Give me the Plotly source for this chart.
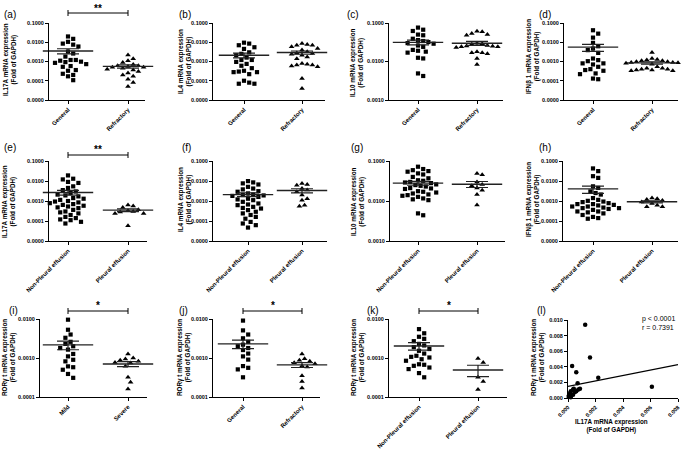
import numpy as np
import plotly.graph_objects as go

W, H = 685, 449
FONT = "Liberation Sans"

# ---------------- data ----------------
CATS_GR = ["General", "Refractory"]
CATS_PE = ["Non-Pleural effusion", "Pleural effusion"]
CATS_MS = ["Mild", "Severe"]

A_GENERAL = [0.02, 0.015, 0.0105, 0.0085, 0.0075, 0.006, 0.0033, 0.0026, 0.0018, 0.0012, 0.0012, 0.0011,
             0.00098, 0.00093, 0.00085, 0.00073, 0.00058, 0.00053, 0.00036, 0.00033, 0.00023, 0.0002, 0.00017, 0.000107]
A_REFRACTORY = [0.0022, 0.0014, 0.0011, 0.0009, 0.0007, 0.0006, 0.0006, 0.00055, 0.0005, 0.0005, 0.00045,
                0.00045, 0.0004, 0.00036, 0.00036, 0.0003, 0.00025, 0.0002, 0.00017, 0.00012, 0.00008, 0.00005]

B_GENERAL = [0.0095, 0.0085, 0.007, 0.0055, 0.0045, 0.003, 0.0025, 0.0021, 0.0016, 0.0012, 0.0012, 0.00095,
             0.00075, 0.0006, 0.00045, 0.00033, 0.0003, 0.00028, 0.00028, 0.00022, 0.0001, 0.00008, 0.00007, 0.00007]
B_REFRACTORY = [0.0085, 0.0076, 0.007, 0.007, 0.0058, 0.0047, 0.0039, 0.0032, 0.0028, 0.0026, 0.0024, 0.0021,
                0.0017, 0.0014, 0.00079, 0.00073, 0.00065, 0.00065, 0.00058, 0.00053, 0.00013, 0.00004]

C_GENERAL = [0.076, 0.067, 0.062, 0.050, 0.048, 0.039, 0.036, 0.034, 0.032, 0.030, 0.029, 0.026, 0.024,
             0.020, 0.019, 0.018, 0.017, 0.0125, 0.012, 0.0049, 0.0042]
C_REFRACTORY = [0.061, 0.059, 0.053, 0.050, 0.048, 0.030, 0.029, 0.028, 0.026, 0.0254, 0.025, 0.024, 0.024,
                0.023, 0.018, 0.017, 0.017, 0.016, 0.012, 0.0084]

D_GENERAL = [0.042, 0.028, 0.0174, 0.0093, 0.0062, 0.0047, 0.0039, 0.0028, 0.00143, 0.00118, 0.00104, 0.0008,
             0.0008, 0.0007, 0.00053, 0.0004, 0.00036, 0.00033, 0.00024, 0.00022, 0.00013, 0.00012]
D_REFRACTORY = [0.0029, 0.00143, 0.00126, 0.00118, 0.0011, 0.00108, 0.00096, 0.00096, 0.0009, 0.00089, 0.00086,
                0.0008, 0.00073, 0.00053, 0.00044, 0.00044, 0.0004, 0.0004, 0.00036, 0.00036, 0.00033, 0.00033]

E_NONPLEURAL = [0.019, 0.013, 0.012, 0.009, 0.008, 0.0054, 0.0045, 0.0035, 0.003, 0.0025, 0.0021, 0.0019,
                0.0017, 0.0014, 0.0013, 0.00114, 0.001, 0.00094, 0.00085, 0.00078, 0.0007, 0.00064, 0.00058,
                0.00053, 0.00048, 0.00044, 0.00036, 0.0003, 0.00027, 0.00024, 0.0002, 0.00016, 0.00014,
                0.00012, 0.00011, 0.000091, 0.000075]
E_PLEURAL = [0.00064, 0.00057, 0.00047, 0.00036, 0.00033, 0.0003, 0.00028, 0.00024, 0.00024, 0.000058]

F_NONPLEURAL = [0.0099, 0.0085, 0.0076, 0.0067, 0.0051, 0.0042, 0.0038, 0.0031, 0.0029, 0.0024, 0.0021, 0.0020,
                0.0018, 0.0016, 0.0013, 0.0011, 0.00091, 0.00075, 0.00067, 0.00062, 0.00051, 0.00045, 0.00042,
                0.00035, 0.00029, 0.00024, 0.00020, 0.00016, 0.00013, 0.000090, 0.000075, 0.000062, 0.000047,
                0.0019, 0.0012]
F_PLEURAL = [0.0076, 0.0067, 0.0062, 0.0042, 0.0035, 0.0029, 0.002, 0.0013, 0.0011, 0.00062, 0.00055]

G_NONPLEURAL = [0.072, 0.063, 0.059, 0.056, 0.054, 0.049, 0.046, 0.040, 0.037, 0.033, 0.032, 0.030, 0.029,
                0.028, 0.026, 0.025, 0.024, 0.023, 0.021, 0.0206, 0.020, 0.0176, 0.017, 0.0163, 0.0154, 0.0146,
                0.014, 0.0135, 0.0127, 0.0116, 0.011, 0.0105, 0.0049, 0.0044]
G_PLEURAL = [0.049, 0.045, 0.030, 0.026, 0.024, 0.021, 0.0187, 0.0146, 0.0079]

H_NONPLEURAL = [0.0425, 0.0312, 0.0174, 0.0143, 0.0054, 0.0045, 0.003, 0.0025, 0.0021, 0.0014, 0.00114, 0.00102,
                0.00094, 0.00088, 0.00078, 0.0007, 0.00064, 0.0006, 0.00053, 0.00047, 0.00044, 0.0004, 0.00036,
                0.0003, 0.00027, 0.00024, 0.0002, 0.00016, 0.00014, 0.00013, 0.00053, 0.0007, 0.00044, 0.0003]
H_PLEURAL = [0.0014, 0.0013, 0.0012, 0.00105, 0.00088, 0.00075, 0.00062, 0.00052, 0.00052]

I_MILD = [0.0096, 0.0053, 0.0040, 0.0033, 0.0026, 0.0023, 0.0020, 0.0018, 0.00164, 0.00127, 0.0011, 0.0009,
          0.00082, 0.00061, 0.00058, 0.0005, 0.00039, 0.00031]
I_SEVERE = [0.00127, 0.001, 0.00094, 0.00087, 0.00082, 0.00077, 0.00074, 0.00061, 0.00032, 0.00024, 0.00016]

J_GENERAL = [0.0091, 0.0051, 0.004, 0.0032, 0.0026, 0.0022, 0.0020, 0.0018, 0.0016, 0.0013, 0.0011, 0.00091,
             0.00062, 0.00056, 0.00051, 0.00032]
J_REFRACTORY = [0.00126, 0.00095, 0.00087, 0.00082, 0.00075, 0.00071, 0.00062, 0.00059, 0.00035, 0.00025, 0.00017]

K_NONPLEURAL = [0.01, 0.0055, 0.0043, 0.0035, 0.0031, 0.0027, 0.0023, 0.0021, 0.0019, 0.0017, 0.00153, 0.0013,
                0.00114, 0.00107, 0.00103, 0.00093, 0.00085, 0.00069, 0.00067, 0.00063, 0.00057, 0.00052,
                0.00041, 0.00032]
K_PLEURAL = [0.00097, 0.00077, 0.00032, 0.00025, 0.000155]

L_IL17A = [0.00125, 0.0016, 0.0003, 0.0006, 0.0007, 0.0022, 0.0061, 0.0002, 0.00037, 0.0005, 0.0006, 0.00007,
           0.00025, 0.00005, 0.00037, 0.00042, 0.00075, 0.00087, 0.0001, 0.00015, 0.0002]
L_RORGT = [0.0094, 0.0052, 0.0041, 0.0033, 0.0019, 0.0026, 0.00145, 0.00085, 0.0011, 0.00077, 0.00085, 0.00034,
           0.00043, 0.00013, 0.00043, 0.0012, 0.0011, 0.0012, 0.0002, 0.0006, 0.0001]
L_STATS = "p < 0.0001<br>r = 0.7391"

YT_IL17A = "IL17A mRNA expression"
YT_IL4 = "IL4 mRNA expression"
YT_IL10 = "IL10 mRNA expression"
YT_IFN = "IFNβ 1 mRNA expression"
YT_ROR = "RORγ t mRNA expression"
FOLD = "(Fold of GAPDH)"

# ---------------- layout (pixels) ----------------
PANELS = [
    dict(lab="(a)", g=(A_GENERAL, A_REFRACTORY), cats=CATS_GR, yt=YT_IL17A, yr=(-5, -1), px=(49, 68, 128, 145), py=(23, 100), lp=(2, 15), tp=(10, 60), sig="**", sy=(13, 8)),
    dict(lab="(b)", g=(B_GENERAL, B_REFRACTORY), cats=CATS_GR, yt=YT_IL4, yr=(-5, -1), px=(213, 244, 302, 325), py=(23, 100), lp=(177, 15), tp=(185, 62)),
    dict(lab="(c)", g=(C_GENERAL, C_REFRACTORY), cats=CATS_GR, yt=YT_IL10, yr=(-3, -1), px=(389, 418, 477, 503), py=(23, 100), lp=(345, 15), tp=(357, 63)),
    dict(lab="(d)", g=(D_GENERAL, D_REFRACTORY), cats=CATS_GR, yt=YT_IFN, yr=(-5, -1), px=(564, 593, 652, 678), py=(23, 100), lp=(537, 15), tp=(533, 57)),
    dict(lab="(e)", g=(E_NONPLEURAL, E_PLEURAL), cats=CATS_PE, yt=YT_IL17A, yr=(-5, -1), px=(49, 68, 128, 147), py=(161, 241), lp=(2, 148), tp=(9, 202), sig="**", sy=(155, 149)),
    dict(lab="(f)", g=(F_NONPLEURAL, F_PLEURAL), cats=CATS_PE, yt=YT_IL4, yr=(-5, -1), px=(213, 248, 302, 327), py=(161, 241), lp=(180, 148), tp=(185, 200)),
    dict(lab="(g)", g=(G_NONPLEURAL, G_PLEURAL), cats=CATS_PE, yt=YT_IL10, yr=(-3, -1), px=(390, 418, 477, 505), py=(161, 241), lp=(349, 148), tp=(358, 202)),
    dict(lab="(h)", g=(H_NONPLEURAL, H_PLEURAL), cats=CATS_PE, yt=YT_IFN, yr=(-5, -1), px=(563, 593, 652, 678), py=(161, 241), lp=(537, 148), tp=(533, 200)),
    dict(lab="(i)", g=(I_MILD, I_SEVERE), cats=CATS_MS, yt=YT_ROR, yr=(-4, -2), px=(40, 68, 128, 147), py=(319, 397), lp=(7, 310), tp=(9, 358), sig="*", sy=(311, 305)),
    dict(lab="(j)", g=(J_GENERAL, J_REFRACTORY), cats=CATS_GR, yt=YT_ROR, yr=(-4, -2), px=(213, 243, 302, 320), py=(319, 397), lp=(177, 310), tp=(184, 358), sig="*", sy=(311, 305)),
    dict(lab="(k)", g=(K_NONPLEURAL, K_PLEURAL), cats=CATS_PE, yt=YT_ROR, yr=(-4, -2), px=(389, 419, 478, 507), py=(319, 397), lp=(365, 310), tp=(358, 358), sig="*", sy=(311, 305)),
]
L_PANEL = dict(lab="(l)", px=(568, 678), py=(320, 398), xr=(0, 0.008), yr=(0, 0.010), lp=(535, 310), tp=(538, 358),
               xt=(611, 426), st=(640, 323))

BLACK = "black"
SYMS = ["square", "triangle-up"]
SIZES = [4.2, 5.0]
SPACING = 5.2      # px between swarm points
MEAN_W = 36        # px width of the mean line
CAP_HW = 11        # px half width of SEM caps

AX = dict(showline=True, linecolor=BLACK, linewidth=1, ticks="outside", ticklen=3, tickwidth=1,
          tickcolor=BLACK, showgrid=False, zeroline=False, fixedrange=True, automargin=False,
          tickfont=dict(family=FONT, size=5.5, color=BLACK, weight="bold"))


def fx(p):
    return p / W


def fy(p):
    return 1 - p / H


def swarm(vals, ypix):
    placed, offs = [], [0.0] * len(vals)
    order = sorted(range(len(vals)), key=lambda i: -vals[i])
    cands = [0.0]
    for k in range(1, 30):
        cands += [k * SPACING / 2, -k * SPACING / 2]
    for i in order:
        y = ypix(vals[i])
        for c in cands:
            if all((c - a) ** 2 + (y - b) ** 2 >= SPACING ** 2 * 0.98 for a, b in placed):
                break
        placed.append((c, y))
        offs[i] = c
    return offs


fig = go.Figure()
annotations, shapes = [], []
layout = {}

for n, p in enumerate(PANELS, start=1):
    xa, ya = ("x", "y") if n == 1 else (f"x{n}", f"y{n}")
    x0, c1, c2, x1 = p["px"]
    top, bot = p["py"]
    lo, hi = p["yr"]
    ppu = c2 - c1
    hpx = bot - top
    ypix = lambda v, lo=lo, hi=hi, hpx=hpx: (np.log10(v) - lo) / (hi - lo) * hpx

    for gi, vals in enumerate(p["g"]):
        offs = swarm(vals, ypix)
        fig.add_trace(go.Scatter(
            x=[gi + o / ppu for o in offs], y=vals, mode="markers", xaxis=xa, yaxis=ya,
            marker=dict(symbol=SYMS[gi], size=SIZES[gi], color=BLACK, line=dict(width=0)),
            cliponaxis=False, showlegend=False, hoverinfo="skip"))
        arr = np.array(vals)
        m = arr.mean()
        sem = arr.std(ddof=1) / np.sqrt(len(arr))
        fig.add_trace(go.Scatter(
            x=[gi], y=[m], mode="markers", xaxis=xa, yaxis=ya,
            marker=dict(symbol="line-ew", size=MEAN_W, color="#222", line=dict(width=1.4, color="#222")),
            error_y=dict(type="data", symmetric=False, array=[sem], arrayminus=[sem],
                         width=CAP_HW, thickness=1.2, color="#222"),
            cliponaxis=False, showlegend=False, hoverinfo="skip"))

    layout[f"xaxis{n}"] = dict(AX, domain=[fx(x0), fx(x1)], anchor=ya, range=[(x0 - c1) / ppu, (x1 - c1) / ppu],
                               tickmode="array", tickvals=[0, 1], ticktext=p["cats"], tickangle=-45,
                               tickfont=dict(family=FONT, size=6, color=BLACK, weight="bold"))
    tv = [10.0 ** k for k in range(lo, hi + 1)]
    layout[f"yaxis{n}"] = dict(AX, domain=[fy(bot), fy(top)], anchor=xa, type="log", range=[lo, hi],
                               tickmode="array", tickvals=tv, ticktext=[f"{v:.4f}" for v in tv])

    annotations.append(dict(text=p["lab"], x=fx(p["lp"][0]), y=fy(p["lp"][1]), xref="paper", yref="paper",
                            xanchor="left", yanchor="middle", showarrow=False,
                            font=dict(family=FONT, size=10, color=BLACK)))
    annotations.append(dict(text=f"<b>{p['yt']}</b><br><b>{FOLD}</b>", x=fx(p["tp"][0]), y=fy(p["tp"][1]),
                            xref="paper", yref="paper", xanchor="center", yanchor="middle", textangle=-90,
                            showarrow=False, font=dict(family=FONT, size=6.3, color=BLACK)))
    if p.get("sig"):
        by, sy = p["sy"]
        shapes.append(dict(type="line", xref=xa, yref="paper", x0=0, x1=1, y0=fy(by), y1=fy(by),
                           line=dict(color=BLACK, width=1)))
        for xe in (0, 1):
            shapes.append(dict(type="line", xref=xa, yref="paper", x0=xe, x1=xe, y0=fy(by - 3), y1=fy(by + 3),
                               line=dict(color=BLACK, width=1)))
        annotations.append(dict(text=f"<b>{p['sig']}</b>", x=0.5, y=fy(sy), xref=xa, yref="paper",
                                xanchor="center", yanchor="middle", showarrow=False,
                                font=dict(family=FONT, size=10, color=BLACK)))

# ---- panel (l): correlation ----
q = L_PANEL
xs, ys = np.array(L_IL17A), np.array(L_RORGT)
slope, icpt = np.polyfit(xs, ys, 1)
lx = np.array(q["xr"])
fig.add_trace(go.Scatter(x=lx, y=slope * lx + icpt, mode="lines", xaxis="x12", yaxis="y12",
                         line=dict(color=BLACK, width=1.2), showlegend=False, hoverinfo="skip"))
fig.add_trace(go.Scatter(x=xs, y=ys, mode="markers", xaxis="x12", yaxis="y12", cliponaxis=False,
                         marker=dict(symbol="circle", size=4.5, color=BLACK), showlegend=False, hoverinfo="skip"))
layout["xaxis12"] = dict(AX, domain=[fx(q["px"][0]), fx(q["px"][1])], anchor="y12", range=list(q["xr"]),
                         dtick=0.002, tick0=0, tickformat=".3f", tickangle=-45)
layout["yaxis12"] = dict(AX, domain=[fy(q["py"][1]), fy(q["py"][0])], anchor="x12", range=list(q["yr"]),
                         dtick=0.002, tick0=0, tickformat=".3f")
annotations.append(dict(text=q["lab"], x=fx(q["lp"][0]), y=fy(q["lp"][1]), xref="paper", yref="paper",
                        xanchor="left", yanchor="middle", showarrow=False, font=dict(family=FONT, size=10, color=BLACK)))
annotations.append(dict(text=f"<b>{YT_ROR}</b><br><b>{FOLD}</b>", x=fx(q["tp"][0]), y=fy(q["tp"][1]),
                        xref="paper", yref="paper", xanchor="center", yanchor="middle", textangle=-90,
                        showarrow=False, font=dict(family=FONT, size=6.3, color=BLACK)))
annotations.append(dict(text=f"<b>{YT_IL17A}</b><br><b>{FOLD}</b>", x=fx(q["xt"][0]), y=fy(q["xt"][1]),
                        xref="paper", yref="paper", xanchor="center", yanchor="middle",
                        showarrow=False, font=dict(family=FONT, size=6.3, color=BLACK)))
annotations.append(dict(text=L_STATS, x=fx(q["st"][0]), y=fy(q["st"][1]), xref="paper", yref="paper",
                        xanchor="left", yanchor="middle", align="left", showarrow=False,
                        font=dict(family=FONT, size=7, color=BLACK)))

fig.update_layout(template="none", width=W, height=H, margin=dict(l=0, r=0, t=0, b=0, autoexpand=False),
                  autosize=False, paper_bgcolor="white", plot_bgcolor="white", font=dict(family=FONT, color=BLACK),
                  annotations=annotations, shapes=shapes, showlegend=False, **layout)
fig.write_html("out.html", config={"displayModeBar": False, "staticPlot": True},
               post_script="document.body.style.margin='0';document.body.style.overflow='hidden';")
